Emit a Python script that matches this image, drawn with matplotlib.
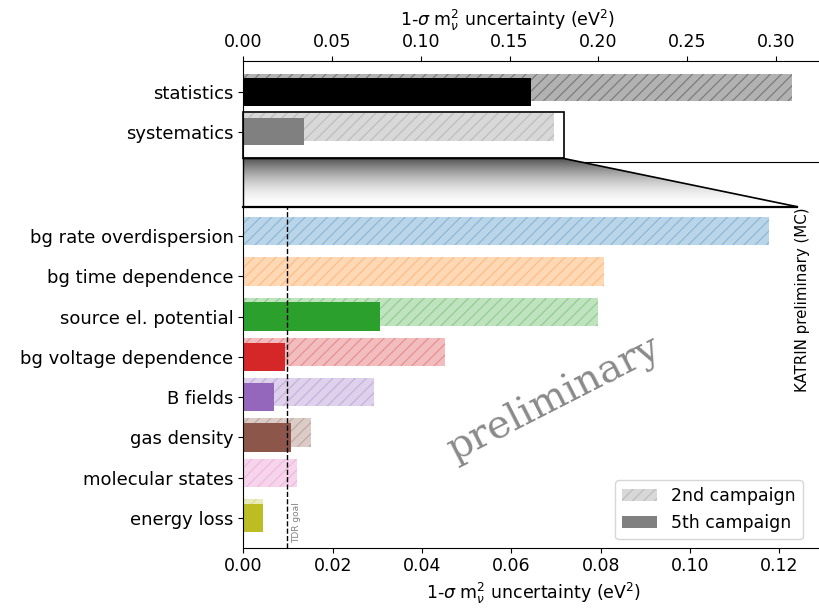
import numpy as np
import matplotlib
matplotlib.use("Agg")
import matplotlib.pyplot as plt
from matplotlib.patches import Rectangle, Polygon, Patch

# ---- data -------------------------------------------------------------
summary_labels = ["statistics", "systematics"]
summary_2nd = [0.309, 0.1753]
summary_5th = [0.1622, 0.0344]

sys_labels = ["bg rate overdispersion", "bg time dependence", "source el. potential",
              "bg voltage dependence", "B fields", "gas density",
              "molecular states", "energy loss"]
sys_2nd = [0.1178, 0.0807, 0.0795, 0.0451, 0.0292, 0.0152, 0.0121, 0.0043]
sys_5th = [0.0, 0.0, 0.0306, 0.0094, 0.0068, 0.0106, 0.0, 0.0044]

top_ticks = [0.00, 0.05, 0.10, 0.15, 0.20, 0.25, 0.30]
low_ticks = [0.00, 0.02, 0.04, 0.06, 0.08, 0.10, 0.12]
tdr_goal = 0.0097

# ---- style ------------------------------------------------------------
plt.rcParams["font.family"] = ["DejaVu Sans"]
plt.rcParams["hatch.linewidth"] = 0.9
FS = 12.5
FS_CAT = 13.0
HATCH = "///"
sys_colors = ["tab:blue", "tab:orange", "tab:green", "tab:red",
              "tab:purple", "tab:brown", "tab:pink", "tab:olive"]
summary_colors_2nd = ["black", "grey"]
summary_colors_5th = ["black", "grey"]
xlabel = r"1-$\sigma$ m$^2_\nu$ uncertainty (eV$^2$)"

W, H = 819, 612
fig = plt.figure(figsize=(W / 100, H / 100), dpi=100)

left = 243.3 / W
ax_top = fig.add_axes([left, 1 - 162.3 / H, 0.7044, (162.3 - 61) / H])
ax_low = fig.add_axes([left, 1 - 547.7 / H, 0.7090, (547.7 - 206.7) / H])

BAR_H = 0.7
OFF = 0.12


def draw_bars(ax, vals2, vals5, c2, c5):
    y = np.arange(len(vals2))
    for yi, v, c in zip(y, vals2, c2):
        ax.barh(yi - OFF, v, height=BAR_H, color=c, alpha=0.3, hatch=HATCH,
                edgecolor=c, linewidth=0)
    for yi, v, c in zip(y, vals5, c5):
        if v > 0:
            ax.barh(yi, v, height=BAR_H, color=c, linewidth=0)
    return y


# ---- summary panel ----------------------------------------------------
y_top = draw_bars(ax_top, summary_2nd, summary_5th,
                  summary_colors_2nd, summary_colors_5th)
ax_top.set_xlim(0, 0.325)
ax_top.set_ylim(1.777, -0.794)
ax_top.set_yticks(y_top)
ax_top.set_yticklabels(summary_labels, fontsize=FS_CAT)
ax_top.xaxis.tick_top()
ax_top.xaxis.set_label_position("top")
ax_top.set_xticks(top_ticks)
ax_top.set_xticklabels([f"{t:.2f}" for t in top_ticks], fontsize=FS)
ax_top.set_xlabel(xlabel, fontsize=FS)
ax_top.xaxis.set_label_coords((508 - 243.3) / (0.7044 * W), 1.35)
ax_top.spines["right"].set_visible(False)

box_x1 = 0.1805
box_y0, box_y1 = 0.49, 1.68
ax_top.add_patch(Rectangle((0, box_y0), box_x1, box_y1 - box_y0,
                           facecolor="none", edgecolor="black",
                           linewidth=1.2, zorder=5, clip_on=False))

# ---- systematics breakdown panel --------------------------------------
y_low = draw_bars(ax_low, sys_2nd, sys_5th, sys_colors, sys_colors)
ax_low.set_xlim(0, 0.13)
low_ylim_top = -0.727
ax_low.set_ylim(7.737, low_ylim_top)
ax_low.set_yticks(y_low)
ax_low.set_yticklabels(sys_labels, fontsize=FS_CAT)
ax_low.set_xticks(low_ticks)
ax_low.set_xticklabels([f"{t:.2f}" for t in low_ticks], fontsize=FS)
ax_low.set_xlabel(xlabel, fontsize=FS, labelpad=4)
ax_low.spines["right"].set_visible(False)
ax_low.spines["top"].set_visible(False)

ax_low.axvline(tdr_goal, color="black", linestyle="--", linewidth=1.0)
ax_low.text(tdr_goal + 0.0013, 7.62, "TDR goal", rotation=90, fontsize=6.5,
            color="grey", ha="left", va="bottom")

legend_handles = [
    Patch(facecolor="grey", edgecolor="grey", alpha=0.3, hatch=HATCH,
          linewidth=0, label="2nd campaign"),
    Patch(facecolor="grey", linewidth=0, label="5th campaign"),
]
ax_low.legend(handles=legend_handles, loc="lower right", fontsize=FS,
              bbox_to_anchor=(0.978, 0.0), borderaxespad=0.5)

# ---- zoom funnel between the two panels -------------------------------
zoom_end = 0.124
p_tl = ax_top.transData.transform((0, box_y1))
p_tr = ax_top.transData.transform((box_x1, box_y1))
p_bl = ax_low.transData.transform((0, low_ylim_top))
p_br = ax_low.transData.transform((zoom_end, low_ylim_top))

ov = fig.add_axes([0, 0, 1, 1], zorder=10)
ov.set_xlim(0, W)
ov.set_ylim(0, H)
ov.axis("off")
ov.patch.set_visible(False)

corners = np.array([p_tl, p_tr, p_br, p_bl])
funnel = Polygon(corners, closed=True, facecolor="none", edgecolor="none")
ov.add_patch(funnel)
t = np.linspace(0, 1, 256)[:, None]
shade = 1 - 0.68 * (1 - t) ** 1.8
img = ov.imshow(shade, cmap="gray", vmin=0, vmax=1, aspect="auto",
                origin="upper",
                extent=(corners[:, 0].min(), corners[:, 0].max(),
                        p_bl[1], p_tl[1]), interpolation="bilinear")
img.set_clip_path(funnel)
ov.set_xlim(0, W)
ov.set_ylim(0, H)
ov.plot([p_tl[0], p_tr[0], p_br[0]], [p_tl[1], p_tr[1], p_br[1]],
        color="black", linewidth=1.2)
ov.plot([p_bl[0], p_br[0]], [p_bl[1], p_br[1]], color="black", linewidth=1.6)
ov.plot([p_tl[0], p_bl[0]], [p_tl[1], p_bl[1]], color="black", linewidth=1.0)

# ---- annotations ------------------------------------------------------
fig.text(803 / W, 1 - 300 / H, "KATRIN preliminary (MC)", rotation=90,
         fontsize=10.8, ha="center", va="center")
fig.text(555 / W, 1 - 399 / H, "preliminary", rotation=27, fontsize=28.5,
         color="#8a8a8a", ha="center", va="center", family="DejaVu Serif")

fig.savefig("out.png", dpi=100)
